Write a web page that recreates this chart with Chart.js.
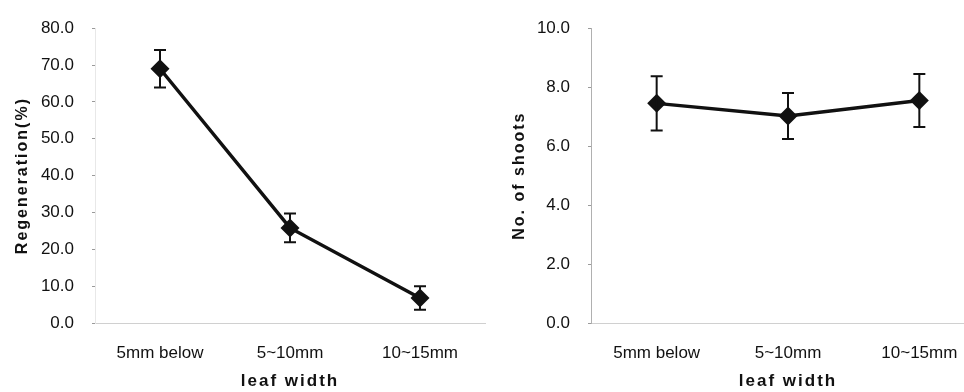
<!DOCTYPE html>
<html>
<head>
<meta charset="utf-8">
<script src="https://cdn.jsdelivr.net/npm/chart.js@4/dist/chart.umd.min.js"></script>
<style>
  html, body { margin: 0; padding: 0; background: #fff; }
  body { width: 964px; height: 392px; overflow: hidden; position: relative; }
  canvas { position: absolute; top: 0; }
  #left { left: 0; }
  #right { left: 482px; }
</style>
</head>
<body>
<canvas id="left" width="500" height="392"></canvas>
<canvas id="right" width="520" height="392"></canvas>
<script>
const leafWidths = ['5mm below', '5~10mm', '10~15mm'];
const regeneration = [69.0, 25.8, 6.8];
const regenerationErr = [5.1, 3.9, 3.2];
const shoots = [7.45, 7.02, 7.55];
const shootsErr = [0.92, 0.78, 0.9];

const regenTicks = [0, 10, 20, 30, 40, 50, 60, 70, 80];
const shootTicks = [0, 2, 4, 6, 8, 10];

const FONT = "'Liberation Sans', Arial, sans-serif";

// error bars, drawn through the chart's own scales
const errorBars = {
    id: 'errorBars',
    afterDatasetsDraw(chart, args, opts) {
        const ctx = chart.ctx;
        const x = chart.scales.x, y = chart.scales.y;
        const vals = chart.data.datasets[0].data;
        ctx.save();
        ctx.strokeStyle = '#111';
        ctx.lineWidth = 2;
        vals.forEach((v, i) => {
            const px = x.getPixelForValue(i);
            const top = y.getPixelForValue(v + opts.err[i]);
            const bot = y.getPixelForValue(v - opts.err[i]);
            ctx.beginPath();
            ctx.moveTo(px, top); ctx.lineTo(px, bot);
            ctx.moveTo(px - 6, top); ctx.lineTo(px + 6, top);
            ctx.moveTo(px - 6, bot); ctx.lineTo(px + 6, bot);
            ctx.stroke();
        });
        ctx.restore();
    }
};

// spaced-out axis titles like the printed figure
const spacedTitles = {
    id: 'spacedTitles',
    beforeDraw(chart) {
        Object.values(chart.scales).forEach(s => {
            if (s._spaced) return;
            const orig = s.drawTitle;
            s.drawTitle = function() {
                this.ctx.save();
                this.ctx.letterSpacing = '2px';
                orig.call(this);
                this.ctx.restore();
            };
            s._spaced = true;
        });
    }
};

function makeChart(id, values, err, ticks, yTitle, opt) {
    return new Chart(document.getElementById(id), {
        type: 'line',
        data: {
            labels: leafWidths,
            datasets: [{
                data: values,
                borderColor: '#111',
                borderWidth: 3.5,
                backgroundColor: '#111',
                pointStyle: 'rectRot',
                pointRadius: 9.5,
                pointBorderWidth: 0,
                tension: 0
            }]
        },
        options: {
            responsive: false,
            animation: false,
            layout: { padding: { top: 25, right: opt.padRight, bottom: 0, left: 0 } },
            plugins: {
                legend: { display: false },
                tooltip: { enabled: false },
                errorBars: { err: err }
            },
            scales: {
                x: {
                    offset: true,
                    grid: { display: false, drawTicks: false },
                    border: { display: true, color: '#d0d0d0', dash: [3, 9], width: 1 },
                    ticks: { color: '#111', padding: 20, font: { family: FONT, size: 17 }, maxRotation: 0 },
                    title: { display: true, text: 'leaf width', color: '#111', padding: 0,
                             font: { family: FONT, size: 17, weight: 'bold' } },
                    afterFit: s => { s.height = 69; }
                },
                y: {
                    min: ticks[0],
                    max: ticks[ticks.length - 1],
                    afterBuildTicks: s => { s.ticks = ticks.map(v => ({ value: v })); },
                    grid: { drawOnChartArea: false, drawTicks: true, tickLength: 3, color: '#9a9a9a' },
                    border: { display: true, color: opt.axisColor, dash: [3, 3], width: 1 },
                    ticks: { color: '#111', padding: 18, font: { family: FONT, size: 17 },
                             callback: v => v.toFixed(1) },
                    title: { display: true, text: yTitle, color: '#111',
                             padding: { top: opt.titlePad, bottom: 0 },
                             font: { family: FONT, size: 16, weight: 'bold' } },
                    afterFit: s => { s.width = opt.yWidth; }
                }
            }
        },
        plugins: [errorBars, spacedTitles]
    });
}

makeChart('left', regeneration, regenerationErr, regenTicks, 'Regeneration(%)',
    { padRight: 15, yWidth: 95, titlePad: 13, axisColor: '#e8e8e8' });
makeChart('right', shoots, shootsErr, shootTicks, 'No. of shoots',
    { padRight: 17, yWidth: 109, titlePad: 28, axisColor: '#b0b0b0' });
</script>
</body>
</html>
